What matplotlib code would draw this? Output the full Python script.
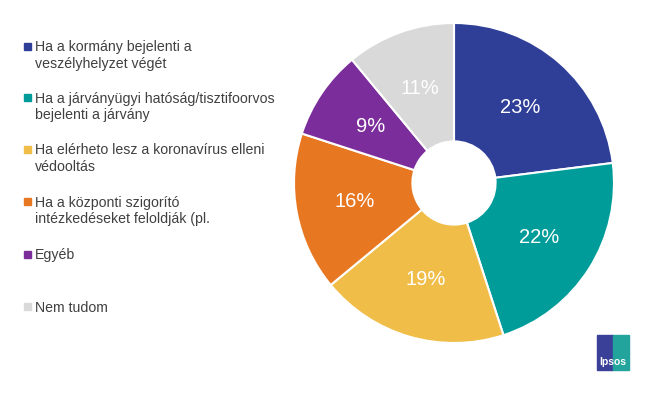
import numpy as np
import matplotlib.pyplot as plt
from matplotlib.patches import Rectangle

plt.rcParams['font.family'] = ['Liberation Sans', 'DejaVu Sans']

labels = ['Ha a kormány bejelenti a\nveszélyhelyzet végét',
          'Ha a járványügyi hatóság/tisztifoorvos\nbejelenti a járvány',
          'Ha elérheto lesz a koronavírus elleni\nvédooltás',
          'Ha a központi szigorító\nintézkedéseket feloldják (pl.',
          'Egyéb',
          'Nem tudom']
values = [23, 22, 19, 16, 9, 11]
colors = ['#2F3F98', '#009C99', '#F0BE48', '#E87722', '#7B2E9B', '#D9D9D9']

W, H = 668, 394
fig = plt.figure(figsize=(W / 100, H / 100), dpi=100)

# pie: center (454,183) px, radius 160 px
cx, cy, r = 454, 183, 160
ax = fig.add_axes([(cx - r) / W, (H - cy - r) / H, 2 * r / W, 2 * r / H])
wedges, texts = ax.pie(values, colors=colors, startangle=90, counterclock=False,
                       radius=1.0, wedgeprops=dict(edgecolor='white', linewidth=1.5,
                                                   width=1 - 0.26))
for w, v in zip(wedges, values):
    ang = np.deg2rad((w.theta1 + w.theta2) / 2)
    ax.text(0.63 * np.cos(ang), 0.63 * np.sin(ang), f'{v}%', ha='center', va='center',
            color='white', fontsize=14.5)
ax.set_xlim(-1, 1)
ax.set_ylim(-1, 1)
ax.set_aspect('equal')
ax.axis('off')

# legend
ys = [47, 98, 150, 202, 255, 307]
for lab, c, y in zip(labels, colors, ys):
    fig.patches.append(Rectangle((24 / W, 1 - (y + 3) / H), 7 / W, 7 / H,
                                 transform=fig.transFigure, color=c))
    fig.text(35 / W, 1 - (y - 6.5) / H, lab, ha='left', va='top', fontsize=10.2,
             color='#404040', linespacing=1.2)

# logo
lx, ly, lw, lh = 597, 335, 32, 35
fig.patches.append(Rectangle((lx / W, 1 - (ly + lh) / H), lw / 2 / W, lh / H,
                             transform=fig.transFigure, color='#3A3F98'))
fig.patches.append(Rectangle(((lx + lw / 2) / W, 1 - (ly + lh) / H), lw / 2 / W, lh / H,
                             transform=fig.transFigure, color='#22A39C'))
fig.text((lx + lw / 2) / W, 1 - (ly + lh - 8) / H, 'Ipsos', ha='center', va='center',
         color='white', fontsize=7.5, fontweight='bold')

fig.savefig('out.png', dpi=100)
